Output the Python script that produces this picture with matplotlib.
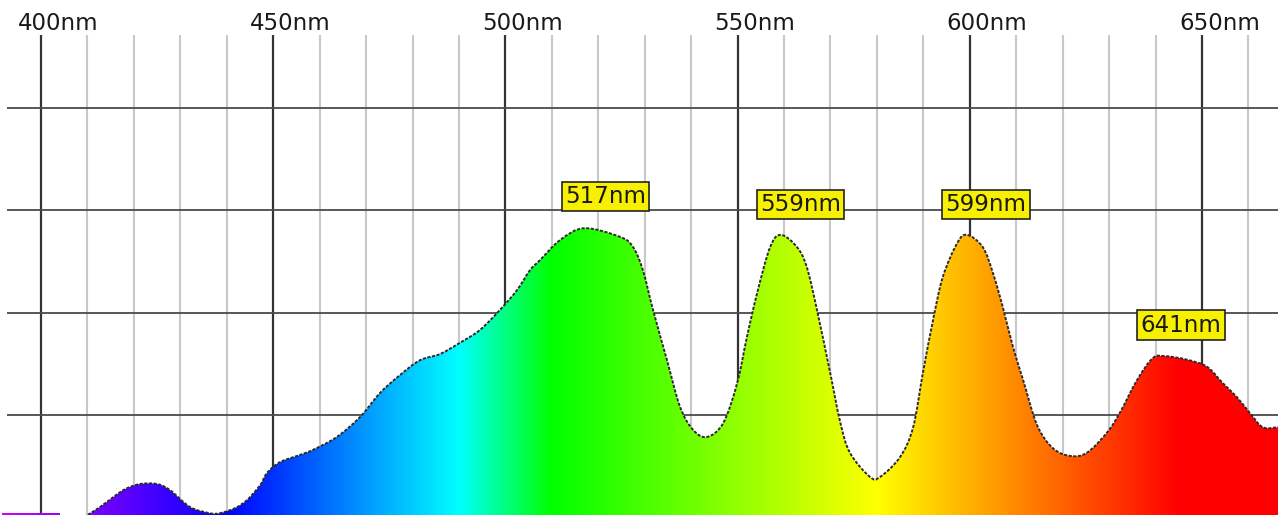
import matplotlib
matplotlib.use('Agg')
import numpy as np
import matplotlib.pyplot as plt
from matplotlib.path import Path
from matplotlib.patches import PathPatch

plt.rcParams['font.family'] = 'DejaVu Sans'

# spectrum (wavelength in nm, relative intensity)
wavelength = [391.5, 404.0, 404.5, 409.5, 410.1, 412.7, 415.5, 418.1, 421.3, 425.0,
              427.8, 432.1, 436.4, 438.5, 441.8, 444.4, 447.2, 448.7, 451.5, 455.8,
              458.6, 463.7, 468.7, 473.0, 477.3, 481.6, 485.9, 490.2, 494.5, 498.8,
              502.5, 505.3, 507.5, 511.8, 517.0, 524.7, 527.5, 529.6, 531.8, 534.8,
              537.6, 540.4, 543.4, 546.9, 549.9, 552.0, 554.2, 557.0, 559.3, 562.8,
              564.9, 567.1, 569.9, 572.1, 574.2, 578.5, 580.7, 585.0, 587.8, 589.9,
              592.1, 594.2, 597.3, 599.4, 602.8, 605.0, 607.1, 609.3, 611.5, 614.5,
              617.9, 621.6, 625.2, 629.5, 632.3, 636.0, 639.4, 642.0, 646.8, 651.1,
              654.5, 657.5, 660.3, 663.1, 666.4]
intensity = [0.8, 0.8, 0.0, 0.0, 0.5, 2.0, 3.9, 5.5, 6.5, 6.5,
             5.3, 2.0, 0.8, 0.8, 1.8, 3.4, 6.3, 8.7, 10.8, 12.2,
             13.2, 15.7, 19.6, 24.3, 27.8, 30.7, 31.9, 34.1, 36.6, 40.5,
             44.4, 48.3, 50.3, 54.2, 56.5, 54.8, 52.8, 48.3, 40.5, 30.7,
             21.6, 17.1, 15.7, 18.4, 26.2, 35.2, 43.8, 52.8, 55.2, 52.8,
             48.9, 40.5, 28.4, 18.6, 12.6, 7.9, 7.9, 11.8, 17.6, 28.2,
             38.6, 47.0, 53.6, 55.2, 52.8, 47.7, 41.1, 33.3, 26.8, 18.0,
             13.5, 12.0, 12.6, 16.5, 20.4, 26.8, 31.1, 31.5, 30.8, 29.4,
             26.2, 23.5, 20.4, 17.6, 17.6]
peaks = [517, 559, 599, 641]
top_ticks = [400, 450, 500, 550, 600, 650]
minor_ticks = list(range(400, 670, 10))
h_grid = [20, 40, 60, 80]

XMIN, XMAX = 391.17, 666.37
YMIN, YMAX = 0.45, 101.1
GRID_TOP = 94.3


def wl_rgb(w):
    if w < 440:
        return (np.clip((440 - w) / 60, 0, 1), 0.0, 1.0)
    if w < 490:
        return (0.0, (w - 440) / 50, 1.0)
    if w < 510:
        return (0.0, 1.0, (510 - w) / 20)
    if w < 580:
        return ((w - 510) / 70, 1.0, 0.0)
    if w < 645:
        return (1.0, (645 - w) / 65, 0.0)
    return (1.0, 0.0, 0.0)


def smooth_path_verts(xs, ys):
    # catmull-rom style bezier through the read points (drawing only)
    pts = np.column_stack([xs, ys]).astype(float)
    verts = [tuple(pts[0])]
    codes = [Path.MOVETO]
    n = len(pts)
    for i in range(n - 1):
        p0 = pts[max(i - 1, 0)]
        p1 = pts[i]
        p2 = pts[i + 1]
        p3 = pts[min(i + 2, n - 1)]
        c1 = p1 + (p2 - p0) / 6
        c2 = p2 - (p3 - p1) / 6
        verts += [tuple(c1), tuple(c2), tuple(p2)]
        codes += [Path.CURVE4] * 3
    return verts, codes


fig = plt.figure(figsize=(12.78, 5.15), dpi=100)
ax = fig.add_axes([0, 0, 1, 1])
ax.set_xlim(XMIN, XMAX)
ax.set_ylim(YMIN, YMAX)
ax.axis('off')
fig.patch.set_facecolor('white')

# grid
for t in minor_ticks:
    if t % 50:
        ax.vlines(t, YMIN, GRID_TOP, color='#c8c8c8', lw=1.5, zorder=1)
for t in top_ticks:
    ax.vlines(t, YMIN, GRID_TOP, color='#333333', lw=1.6, zorder=2)
for g in h_grid:
    ax.hlines(g, XMIN + 1.4, XMAX, color='#4a4a4a', lw=1.3, zorder=2)

for t in top_ticks:
    ax.text(t - 4.95, 96.6, f'{t}nm', ha='left', va='center', fontsize=16.5,
            color='#1a1a1a', zorder=5)

# gradient filled spectrum
ramp = np.linspace(XMIN, XMAX, 1400)
img = np.array([[wl_rgb(w) for w in ramp]])
im = ax.imshow(img, extent=(XMIN, XMAX, YMIN, YMAX), aspect='auto',
               interpolation='bilinear', zorder=3)

# flat violet stub at the far left, then the main curve
stub = PathPatch(Path([(wavelength[0], 0), (wavelength[0], intensity[0]),
                       (wavelength[1], intensity[1]), (wavelength[1], 0),
                       (wavelength[0], 0)], closed=True),
                 facecolor='none', edgecolor='none')
ax.add_patch(stub)
im2 = ax.imshow(img, extent=(XMIN, XMAX, YMIN, YMAX), aspect='auto',
                interpolation='bilinear', zorder=3)
im2.set_clip_path(stub)

cx, cy = wavelength[4:], intensity[4:]
verts, codes = smooth_path_verts(cx, cy)
fill_verts = verts + [(cx[-1], 0), (cx[0], 0), verts[0]]
fill_codes = codes + [Path.LINETO, Path.LINETO, Path.CLOSEPOLY]
body = PathPatch(Path(fill_verts, fill_codes), facecolor='none', edgecolor='none')
ax.add_patch(body)
im.set_clip_path(body)

outline = PathPatch(Path(verts, codes), facecolor='none', edgecolor='#2b2b2b',
                    lw=1.4, linestyle=(0, (1.6, 0.8)), zorder=4)
ax.add_patch(outline)

for p in peaks:
    v = np.interp(p, wavelength, intensity)
    ax.text(p + 4.5, v + 6.2, f'{p}nm', ha='center', va='center', fontsize=16.5,
            color='#1a1a1a', zorder=6,
            bbox=dict(boxstyle='square,pad=0.14', facecolor='#f7f000',
                      edgecolor='#222222', lw=1.2))

fig.savefig('out.png', dpi=100, facecolor='white')
